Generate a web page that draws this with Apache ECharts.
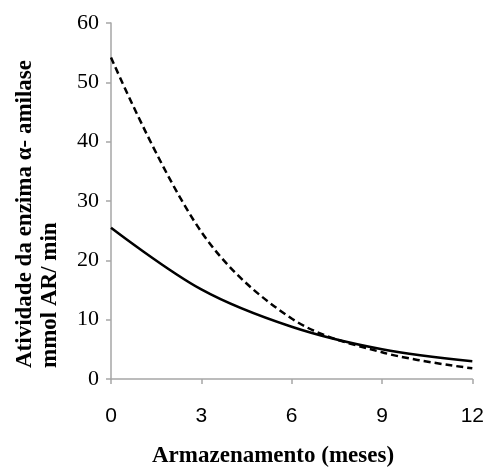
<!DOCTYPE html>
<html>
<head>
<meta charset="utf-8">
<script src="https://cdn.jsdelivr.net/npm/echarts@6/dist/echarts.min.js"></script>
<style>
  html, body { margin: 0; padding: 0; background: #fff; }
  #chart { width: 487px; height: 473px; }
</style>
</head>
<body>
<div id="chart"></div>
<script>
// meses de armazenamento
var months = [0, 3, 6, 9, 12];
// atividade (linha continua e tracejada)
var solidValues = [25.5, 15.1, 8.8, 5.0, 3.0];
var dashedValues = [54.2, 24.8, 10.2, 4.5, 1.8];
var yTicks = [0, 10, 20, 30, 40, 50, 60];

var chart = echarts.init(document.getElementById('chart'));

function pairs(xs, ys) {
    return xs.map(function (x, i) { return [x, ys[i]]; });
}

var axisGray = '#a6a6a6';

var option = {
    backgroundColor: '#ffffff',
    animation: false,
    grid: { left: 111, right: 12, top: 23, bottom: 94 },
    xAxis: {
        type: 'value',
        min: 0, max: 12, interval: 3,
        splitLine: { show: false },
        axisLine: { lineStyle: { color: axisGray, width: 1.5 } },
        axisTick: { length: 5, lineStyle: { color: axisGray, width: 1.5 } },
        axisLabel: {
            margin: 27,
            color: '#000',
            fontFamily: 'Liberation Sans',
            fontSize: 21
        }
    },
    yAxis: {
        type: 'value',
        min: yTicks[0], max: yTicks[yTicks.length - 1], interval: 10,
        splitLine: { show: false },
        axisLine: { show: true, lineStyle: { color: axisGray, width: 1.5 } },
        axisTick: { show: true, length: 5, lineStyle: { color: axisGray, width: 1.5 } },
        axisLabel: {
            margin: 12,
            color: '#000',
            fontFamily: 'Liberation Serif',
            fontSize: 22
        }
    },
    series: [
        {
            name: 'solid',
            type: 'line',
            data: pairs(months, solidValues),
            smooth: 0.35,
            showSymbol: false,
            lineStyle: { color: '#000', width: 2.5, type: 'solid' }
        },
        {
            name: 'dashed',
            type: 'line',
            data: pairs(months, dashedValues),
            smooth: 0.35,
            showSymbol: false,
            lineStyle: { color: '#000', width: 2.5, type: [7, 4] }
        }
    ],
    graphic: [
        {
            type: 'text',
            left: 152,
            top: 445,
            style: {
                text: 'Armazenamento (meses)',
                fill: '#000',
                font: 'bold 23px "Liberation Serif"'
            }
        },
        {
            type: 'text',
            x: 25,
            y: 368,
            rotation: Math.PI / 2,
            style: {
                text: 'Atividade da enzima \u03b1- amilase',
                fill: '#000',
                font: 'bold 23px "Liberation Serif"',
                textAlign: 'left',
                textVerticalAlign: 'middle'
            }
        },
        {
            type: 'text',
            x: 50,
            y: 368,
            rotation: Math.PI / 2,
            style: {
                text: 'mmol AR/ min',
                fill: '#000',
                font: 'bold 23px "Liberation Serif"',
                textAlign: 'left',
                textVerticalAlign: 'middle'
            }
        }
    ]
};

chart.setOption(option);
</script>
</body>
</html>
